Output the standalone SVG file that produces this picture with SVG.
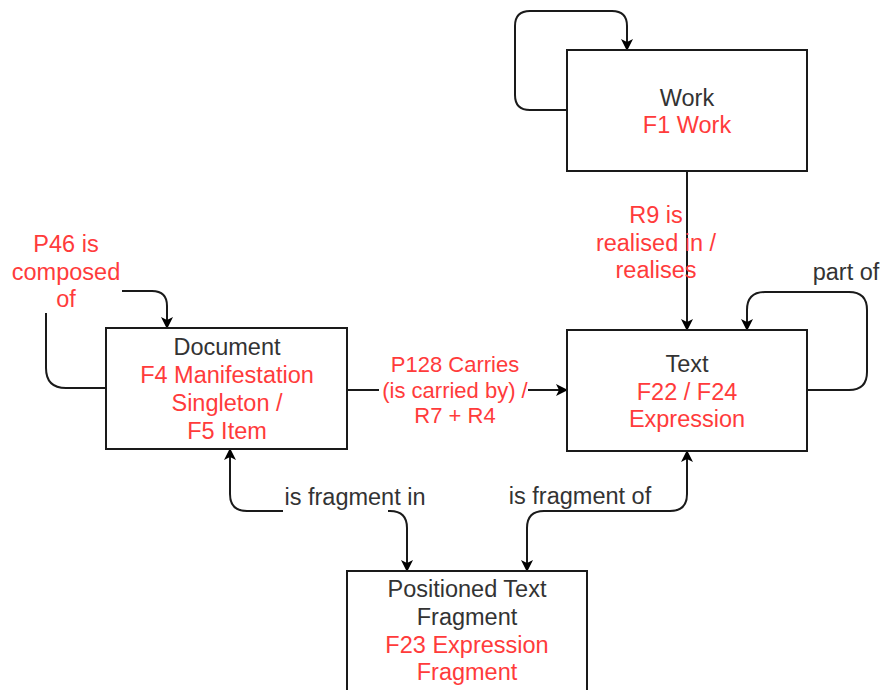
<svg xmlns="http://www.w3.org/2000/svg" width="886" height="690" viewBox="0 0 886 690">
<defs>
<marker id="arr" viewBox="0 0 12 12" refX="11" refY="6" markerWidth="12" markerHeight="12" markerUnits="userSpaceOnUse" orient="auto-start-reverse">
<path d="M0,0 L12,6 L0,12 L3,6 Z" fill="#000"/>
</marker>
<style>
.box{fill:#fff;stroke:#1a1a1a;stroke-width:2}
.ln{fill:none;stroke:#1a1a1a;stroke-width:2}
text{font-family:"Liberation Sans",Arial,sans-serif;font-size:23.5px;text-anchor:middle}
.t{fill:#333}
.r{fill:#ff3b3b}
.bg{fill:#fff}
</style>
</defs>
<rect width="886" height="690" fill="#fff"/>
<g id="connectors">
<path class="ln" d="M567,110 H530 Q515,110 515,95 V26 Q515,11 530,11 H612 Q627,11 627,26 V50" marker-end="url(#arr)"/>
<path class="ln" d="M687,171 V330" marker-end="url(#arr)"/>
<path class="ln" d="M807,390 H849 Q867,390 867,372 V310 Q867,292 849,292 H765 Q747,292 747,310 V330" marker-end="url(#arr)"/>
<path class="ln" d="M106,388 H66 Q46,388 46,368 V291 H152 Q167,291 167,306 V328" marker-end="url(#arr)"/>
<rect class="bg" x="6" y="228" width="116" height="85"/>
<path class="ln" d="M347,390 H567" marker-end="url(#arr)"/>
<rect class="bg" x="379" y="354" width="149" height="76"/>
<path class="ln" d="M230,449 V494 Q230,511 247,511 H390 Q407,511 407,528 V571" marker-start="url(#arr)" marker-end="url(#arr)"/>
<rect class="bg" x="283" y="484" width="105" height="30"/>
<path class="ln" d="M687,451 V494 Q687,511 670,511 H544 Q527,511 527,528 V571" marker-start="url(#arr)" marker-end="url(#arr)"/>
<text class="r"><tspan x="656" y="223">R9 is</tspan><tspan x="656" y="251">realised in /</tspan><tspan x="656" y="278">realises</tspan></text>
<text class="r"><tspan x="66" y="252">P46 is</tspan><tspan x="66" y="280">composed</tspan><tspan x="66" y="307">of</tspan></text>
<text class="r" style="font-size:22px"><tspan x="455" y="372">P128 Carries</tspan><tspan x="455" y="398">(is carried by) /</tspan><tspan x="455" y="423">R7 + R4</tspan></text>
<text class="t" x="846" y="280">part of</text>
<text class="t" x="355" y="505">is fragment in</text>
<text class="t" x="580" y="504">is fragment of</text>
</g>
<g id="work">
<rect class="box" x="567" y="50" width="240" height="121"/>
<text class="t" x="687" y="106">Work</text>
<text class="r" x="687" y="133">F1 Work</text>
</g>
<g id="document">
<rect class="box" x="106" y="328" width="241" height="121"/>
<text class="t" x="227" y="355">Document</text>
<text class="r"><tspan x="227" y="383">F4 Manifestation</tspan><tspan x="227" y="411">Singleton /</tspan><tspan x="227" y="439">F5 Item</tspan></text>
</g>
<g id="text">
<rect class="box" x="567" y="330" width="240" height="121"/>
<text class="t" x="687" y="372">Text</text>
<text class="r"><tspan x="687" y="400">F22 / F24</tspan><tspan x="687" y="427">Expression</tspan></text>
</g>
<g id="fragment">
<rect class="box" x="347" y="571" width="240" height="130"/>
<text class="t"><tspan x="467" y="597">Positioned Text</tspan><tspan x="467" y="625">Fragment</tspan></text>
<text class="r"><tspan x="467" y="653">F23 Expression</tspan><tspan x="467" y="680">Fragment</tspan></text>
</g>
</svg>
